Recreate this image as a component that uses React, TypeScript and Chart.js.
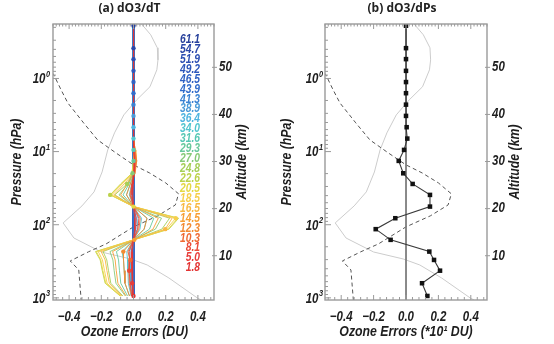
import React, { useEffect, useRef } from 'react';
import { Chart, registerables } from 'chart.js';
Chart.register(...registerables);

// Pressure levels (hPa) shared by the profiles, top to bottom
const PRESSURE_LEVELS = [0.19, 0.385, 0.544, 0.787, 1.12, 1.59, 2.28, 3.25, 4.64, 6.64, 9.48, 13.4, 19.8, 27.7, 39.1, 56.5, 81.5, 115, 161, 233, 303, 425, 631, 942];
// Altitude labels (km) of the perturbed levels
const LEVEL_LABELS = ['61.1', '54.7', '51.9', '49.2', '46.5', '43.9', '41.3', '38.9', '36.4', '34.0', '31.6', '29.3', '27.0', '24.8', '22.6', '20.5', '18.5', '16.5', '14.5', '12.3', '10.3', '8.1', '5.0', '1.8'];

// (a) dO3/dT ozone error profiles (DU), one per perturbed level
const dT_61_1 = [0, 0, 0, 0, 0, 0, 0, 0, 0, 0, 0, 0, 0, 0, 0, 0, 0, 0, 0, 0, 0, 0, 0, 0];
const dT_54_7 = [0, 0, 0, 0, 0, 0, 0, 0, 0, 0, 0, 0, 0, 0, 0, 0, 0, 0, 0, 0, 0, 0, 0, 0];
const dT_51_9 = [0, 0, 0, 0, 0, 0, 0, 0, 0, 0, 0, 0, 0, 0, 0, 0, 0, 0, 0, 0, 0, 0, 0, 0];
const dT_49_2 = [0, 0, 0, 0, 0, 0, 0, 0, 0, 0, 0, 0, 0, 0, 0, 0, 0, 0, 0, 0, 0, 0, 0, 0];
const dT_46_5 = [0, 0, 0, 0, 0, 0, 0, 0, 0, 0, 0, 0, 0, 0, 0, 0, 0, 0, 0, 0, 0, 0, 0, 0];
const dT_43_9 = [0, 0, 0, 0, 0, 0, 0, 0, 0, 0, 0, 0, 0, 0, -0.001, 0, 0.003, 0.002, 0, -0.003, -0.002, -0.002, -0.002, -0.001];
const dT_41_3 = [0, 0, 0, 0, 0, 0, 0, 0, 0, 0, 0, 0, 0, -0.002, -0.004, 0, 0.008, 0.006, 0, -0.007, -0.006, -0.005, -0.005, -0.002];
const dT_38_9 = [0, 0, 0, 0, 0, 0, 0, 0, 0, 0, 0, 0, -0.001, -0.004, -0.009, 0, 0.017, 0.013, 0, -0.014, -0.012, -0.012, -0.011, -0.005];
const dT_36_4 = [0, 0, 0, 0, 0, 0, 0, 0, 0, 0, 0, 0, -0.001, -0.007, -0.015, 0, 0.028, 0.022, 0, -0.024, -0.021, -0.019, -0.018, -0.008];
const dT_34_0 = [0, 0, 0, 0, 0, 0, 0, 0, 0, 0, 0, 0, -0.002, -0.012, -0.026, 0, 0.050, 0.040, 0, -0.042, -0.037, -0.035, -0.032, -0.015];
const dT_31_6 = [0, 0, 0, 0, 0, 0, 0, 0, 0, 0, 0, 0, -0.003, -0.020, -0.044, 0, 0.084, 0.066, 0, -0.071, -0.062, -0.058, -0.053, -0.025];
const dT_29_3 = [0, 0, 0, 0, 0, 0, 0, 0, 0, 0, 0, 0, -0.004, -0.028, -0.065, 0, 0.126, 0.099, 0, -0.106, -0.093, -0.087, -0.079, -0.037];
const dT_27_0 = [0, 0, 0, 0, 0, 0, 0, 0, 0, 0, 0, 0, -0.006, -0.034, -0.090, 0, 0.174, 0.136, 0, -0.146, -0.128, -0.120, -0.109, -0.051];
const dT_24_8 = [0, 0, 0, 0, 0, 0, 0, 0, 0, 0, 0, 0, -0.007, -0.040, -0.116, 0, 0.224, 0.176, 0, -0.189, -0.166, -0.155, -0.141, -0.066];
const dT_22_6 = [0, 0, 0, 0, 0, 0, 0, 0, 0, 0, 0, 0, -0.010, -0.080, -0.145, 0, 0.280, 0.220, 0, -0.236, -0.207, -0.194, -0.176, -0.083];
const dT_20_5 = [0, 0, 0, 0, 0, 0, 0, 0, 0, 0, 0, 0, -0.009, -0.076, -0.142, 0, 0.274, 0.216, 0, -0.231, -0.203, -0.190, -0.172, -0.081];
const dT_18_5 = [0, 0, 0, 0, 0, 0, 0, 0, 0, 0, 0.005, 0.010, -0.005, -0.070, -0.135, 0, 0.262, 0.205, 0, -0.219, -0.193, -0.180, -0.164, -0.077];
const dT_16_5 = [0, 0, 0, 0, 0, 0, 0, 0, 0, 0, 0.010, 0.015, 0.000, -0.058, -0.122, 0, 0.240, 0.197, 0, -0.201, -0.176, -0.165, -0.150, -0.071];
const dT_14_5 = [0, 0, 0, 0, 0, 0, 0, 0, 0, 0, 0.010, 0.020, 0.005, -0.038, -0.080, 0, 0.154, 0.121, 0.005, -0.130, -0.114, -0.107, -0.097, -0.046];
const dT_12_3 = [0, 0, 0, 0, 0, 0, 0, 0, 0, 0, 0.010, 0.020, 0.010, -0.020, -0.043, 0, 0.084, 0.066, 0, -0.063, -0.062, -0.058, -0.053, -0.025];
const dT_10_3 = [0, 0, 0, 0, 0, 0, 0, 0, 0, 0, 0.008, 0.015, 0.008, -0.010, -0.022, 0, 0.042, 0.033, 0, -0.035, -0.020, -0.029, -0.026, -0.012];
const dT_8_1 = [0, 0, 0, 0, 0, 0, 0, 0, 0, 0, 0.005, 0.010, 0.005, -0.008, -0.017, 0, 0.034, 0.026, 0, -0.028, -0.025, -0.027, -0.021, -0.010];
const dT_5_0 = [0, 0, 0, 0, 0, 0, 0, 0, 0, 0, 0.003, 0.008, 0.004, -0.004, -0.009, 0, 0.017, 0.013, 0, -0.014, -0.012, -0.012, -0.008, -0.005];
const dT_1_8 = [0, 0, 0, 0, 0, 0, 0, 0, 0, 0, 0.002, 0.005, 0.002, -0.002, -0.004, 0, 0.008, 0.007, 0, -0.007, -0.006, -0.006, -0.005, 0];
const DT_PROFILES = [dT_61_1, dT_54_7, dT_51_9, dT_49_2, dT_46_5, dT_43_9, dT_41_3, dT_38_9, dT_36_4, dT_34_0, dT_31_6, dT_29_3, dT_27_0, dT_24_8, dT_22_6, dT_20_5, dT_18_5, dT_16_5, dT_14_5, dT_12_3, dT_10_3, dT_8_1, dT_5_0, dT_1_8];

// (b) dO3/dPs ozone error profile (*10 DU)
const DPS_PROFILE = [0, 0, 0, 0, 0, 0, 0, 0, 0.004, 0.008, -0.012, -0.045, -0.017, 0.041, 0.148, 0.148, -0.066, -0.187, -0.095, 0.144, 0.173, 0.21, 0.099, 0.132];

// Reference ozone profile (dashed, scaled to the error axis)
const OZONE_P = [0.6, 0.89, 1.43, 2.16, 4.05, 6.92, 10.4, 15.2, 19.6, 26.8, 37.8, 53.6, 75.7, 107, 183, 235, 313, 415, 1070];
const OZONE_X = [-0.56, -0.495, -0.45, -0.408, -0.31, -0.223, -0.11, 0.0, 0.1, 0.2, 0.28, 0.26, 0.15, 0.0, -0.17, -0.28, -0.393, -0.34, -0.325];
// Reference temperature profile (light grey, scaled to the error axis)
const TEMP_P = [0.18, 0.253, 0.381, 0.557, 0.762, 1.30, 1.96, 3.15, 5.55, 9.48, 19.0, 35.6, 55.3, 94.5, 152, 236, 294, 355, 535, 1002, 1070];
const TEMP_X = [0.05, 0.107, 0.148, 0.152, 0.145, 0.102, 0.02, -0.06, -0.118, -0.16, -0.195, -0.245, -0.32, -0.437, -0.37, -0.2, -0.017, 0.085, 0.22, 0.396, 0.42];

const X_TICKS = [-0.4, -0.2, 0, 0.2, 0.4];
const P_TICKS = [1, 10, 100, 1000];
const ALT_TICKS = [10, 20, 30, 40, 50];

const LEVEL_COLORS = ['#27409b', '#2a47a8', '#2c4fb2', '#2e58bb', '#3062c4', '#316ccb', '#3a82d2', '#4a9ad8', '#4fb5e0', '#52c6cf', '#57c8b4', '#68c99c', '#86ca78', '#a5cf58', '#bcd24a', '#e4d844', '#f6cf4c', '#f8b944', '#f7a036', '#f38a32', '#ef6a33', '#eb4b38', '#e83c3a', '#e33434'];

const FONT = "'Liberation Sans', Arial, sans-serif";
const TITLE_FONT = "'Open Sans', 'Liberation Sans', Arial, sans-serif";
const P_MIN = 0.18;
const P_MAX = 1070;
const SUP = ['0', '1', '2', '3'];
const SX = 0.82; // horizontal condensing of the axis lettering
const INK = '#1e1e1e';

function fmtX(v: number) {
  if (Math.abs(v) < 1e-9) return '0.0';
  return (v < 0 ? '\u2212' : '') + Math.abs(v).toFixed(1);
}

function drawText(ctx: CanvasRenderingContext2D, s: string, x: number, y: number, align: 'left' | 'right' | 'center', font: string, color: string) {
  ctx.save();
  ctx.font = font;
  ctx.fillStyle = color;
  ctx.textBaseline = 'middle';
  ctx.textAlign = 'left';
  const w = ctx.measureText(s).width * SX;
  const x0 = align === 'left' ? x : align === 'right' ? x - w : x - w / 2;
  ctx.translate(x0, y);
  ctx.scale(SX, 1);
  ctx.fillText(s, 0, 0);
  ctx.restore();
}

function drawRotated(ctx: CanvasRenderingContext2D, s: string, x: number, y: number, font: string, color: string) {
  ctx.save();
  ctx.translate(x, y);
  ctx.rotate(-Math.PI / 2);
  ctx.scale(SX, 1);
  ctx.font = font;
  ctx.fillStyle = color;
  ctx.textAlign = 'center';
  ctx.textBaseline = 'middle';
  ctx.fillText(s, 0, 0);
  ctx.restore();
}

function decorPlugin(isA: boolean) {
  return {
    id: 'decor' + (isA ? 'A' : 'B'),
    afterDraw(chart: any) {
      const { ctx, chartArea: a, scales } = chart;
      const sx = scales.x, sy = scales.y, sa = scales.yAlt;
      const tickFont = `italic bold 14px ${FONT}`;
      const expFont = `italic bold 9px ${FONT}`;
      const titleFont = `italic bold 15px ${FONT}`;
      ctx.save();
      ctx.strokeStyle = '#9a9a9a';
      ctx.lineWidth = 1;
      ctx.beginPath();
      for (let i = -25; i <= 25; i++) {
        const px = sx.getPixelForValue(i * 0.02);
        const len = i % 10 === 0 ? 5 : 2.5;
        ctx.moveTo(px, a.top); ctx.lineTo(px, a.top + len);
      }
      for (let i = -12; i <= 12; i++) {
        const px = sx.getPixelForValue(i * 0.04);
        const len = i % 5 === 0 ? 5 : 3;
        ctx.moveTo(px, a.bottom); ctx.lineTo(px, a.bottom - len);
      }
      for (let d = -1; d <= 3; d++) {
        for (let m = 1; m <= 9; m++) {
          const v = m * Math.pow(10, d);
          if (v < P_MIN || v > P_MAX) continue;
          const py = sy.getPixelForValue(v);
          const len = m === 1 ? 6 : 3;
          ctx.moveTo(a.left, py); ctx.lineTo(a.left + len, py);
        }
      }
      for (const v of ALT_TICKS) {
        const py = sa.getPixelForValue(v);
        ctx.moveTo(a.right - 2, py); ctx.lineTo(a.right + 3, py);
      }
      ctx.stroke();
      ctx.lineWidth = 1.4;
      ctx.strokeRect(a.left, a.top, a.right - a.left, a.bottom - a.top);

      // x tick labels and title
      for (const v of X_TICKS) {
        drawText(ctx, fmtX(v), sx.getPixelForValue(v), a.bottom + 17, 'center', tickFont, INK);
      }
      drawText(ctx, isA ? 'Ozone Errors (DU)' : 'Ozone Errors (*10\u00b9 DU)', (a.left + a.right) / 2 + (isA ? 1 : 0), a.bottom + 31.5, 'center', titleFont, INK);

      // pressure tick labels 10^n
      for (const v of P_TICKS) {
        const py = sy.getPixelForValue(v);
        const exp = SUP[Math.round(Math.log10(v))];
        ctx.save();
        ctx.font = expFont;
        const we = ctx.measureText(exp).width * SX;
        ctx.restore();
        const right = a.left - (isA ? 3 : 2);
        drawText(ctx, '10', right - we - 0.5, py + 1, 'right', tickFont, INK);
        drawText(ctx, exp, right - we, py - 4, 'left', expFont, INK);
      }
      drawRotated(ctx, 'Pressure (hPa)', isA ? 17 : 10, (a.top + a.bottom) / 2, titleFont, INK);

      // altitude tick labels and title
      for (const v of ALT_TICKS) {
        drawText(ctx, String(v), a.right + 5, sa.getPixelForValue(v), 'left', tickFont, INK);
      }
      drawRotated(ctx, 'Altitude (km)', a.right + 27.5, (a.top + a.bottom) / 2, titleFont, INK);

      // panel title
      ctx.fillStyle = '#222';
      ctx.font = `bold 12px ${TITLE_FONT}`;
      ctx.textAlign = 'center';
      ctx.textBaseline = 'middle';
      ctx.fillText(isA ? '(a) dO3/dT' : '(b) dO3/dPs', (a.left + a.right) / 2 - 4, 8.5);

      if (isA) {
        LEVEL_LABELS.forEach((lab, i) => {
          drawText(ctx, lab, a.left + 147, a.top + 15.5 + i * 9.93, 'right', `italic bold 12.5px ${FONT}`, LEVEL_COLORS[i]);
        });
      }
      ctx.restore();
    },
  };
}

function buildConfig(isA: boolean): any {
  const datasets: any[] = [];
  datasets.push({
    data: TEMP_P.map((p, i) => ({ x: TEMP_X[i], y: p })),
    showLine: true, borderColor: '#cccccc', borderWidth: 1, pointRadius: 0, order: 200,
  });
  datasets.push({
    data: OZONE_P.map((p, i) => ({ x: OZONE_X[i], y: p })),
    showLine: true, borderColor: '#555555', borderDash: [4, 3], borderWidth: 1, pointRadius: 0, order: 199,
  });
  if (isA) {
    DT_PROFILES.forEach((prof, k) => {
      datasets.push({
        data: prof.map((x, i) => ({ x, y: PRESSURE_LEVELS[i] })),
        showLine: true, borderColor: LEVEL_COLORS[k], borderWidth: k < 7 ? 1.8 : 0.9, pointRadius: 0, order: 100 - k,
      });
    });
    datasets.push({
      data: DT_PROFILES.map((prof, k) => ({ x: prof[k], y: PRESSURE_LEVELS[k] })),
      showLine: false, pointRadius: 2.2, pointBorderWidth: 0, pointBackgroundColor: LEVEL_COLORS, order: 0,
    });
  } else {
    datasets.push({
      data: [{ x: 0, y: P_MIN }, { x: 0, y: P_MAX }],
      showLine: true, borderColor: '#7a7a7a', borderWidth: 1, pointRadius: 0, order: 50,
    });
    datasets.push({
      data: DPS_PROFILE.map((x, i) => ({ x, y: PRESSURE_LEVELS[i] })),
      showLine: true, borderColor: '#3a3a3a', borderWidth: 1.1, pointStyle: 'rect', pointRadius: 3.2,
      pointBorderWidth: 0, pointBackgroundColor: '#111111', order: 0,
    });
  }
  const hidden = { display: false };
  return {
    type: 'scatter',
    data: { datasets },
    plugins: [decorPlugin(isA)],
    options: {
      responsive: false,
      animation: false,
      events: [],
      layout: { padding: { top: 24, left: 0, right: 0, bottom: 0 } },
      plugins: { legend: { display: false }, tooltip: { enabled: false }, title: { display: false } },
      scales: {
        x: {
          type: 'linear', position: 'bottom', min: -0.5, max: 0.5,
          afterBuildTicks: (s: any) => { s.ticks = X_TICKS.map((v) => ({ value: v })); },
          afterFit: (s: any) => { s.height = 44; },
          grid: { display: false, drawTicks: false },
          border: { display: false },
          ticks: { display: false },
          title: hidden,
        },
        y: {
          type: 'logarithmic', position: 'left', reverse: true, min: P_MIN, max: P_MAX,
          afterBuildTicks: (s: any) => { s.ticks = P_TICKS.map((v) => ({ value: v })); },
          afterFit: (s: any) => { s.width = isA ? 53 : 48; },
          grid: { display: false, drawTicks: false },
          border: { display: false },
          ticks: { display: false },
          title: hidden,
        },
        yAlt: {
          type: 'linear', position: 'right', min: 0.6, max: 59.2,
          afterBuildTicks: (s: any) => { s.ticks = ALT_TICKS.map((v) => ({ value: v })); },
          afterFit: (s: any) => { s.width = isA ? 63 : 67; },
          grid: { display: false, drawTicks: false },
          border: { display: false },
          ticks: { display: false },
          title: hidden,
        },
      },
    },
  };
}

export default function App() {
  const refA = useRef<HTMLCanvasElement>(null);
  const refB = useRef<HTMLCanvasElement>(null);
  useEffect(() => {
    const ca = new Chart(refA.current as HTMLCanvasElement, buildConfig(true));
    const cb = new Chart(refB.current as HTMLCanvasElement, buildConfig(false));
    return () => { ca.destroy(); cb.destroy(); };
  }, []);
  return (
    <div style={{ position: 'absolute', left: 0, top: 0, width: 554, height: 344, display: 'flex', background: '#ffffff' }}>
      <canvas ref={refA} width={277} height={344} style={{ width: 277, height: 344, display: 'block' }} />
      <canvas ref={refB} width={277} height={344} style={{ width: 277, height: 344, display: 'block' }} />
    </div>
  );
}
